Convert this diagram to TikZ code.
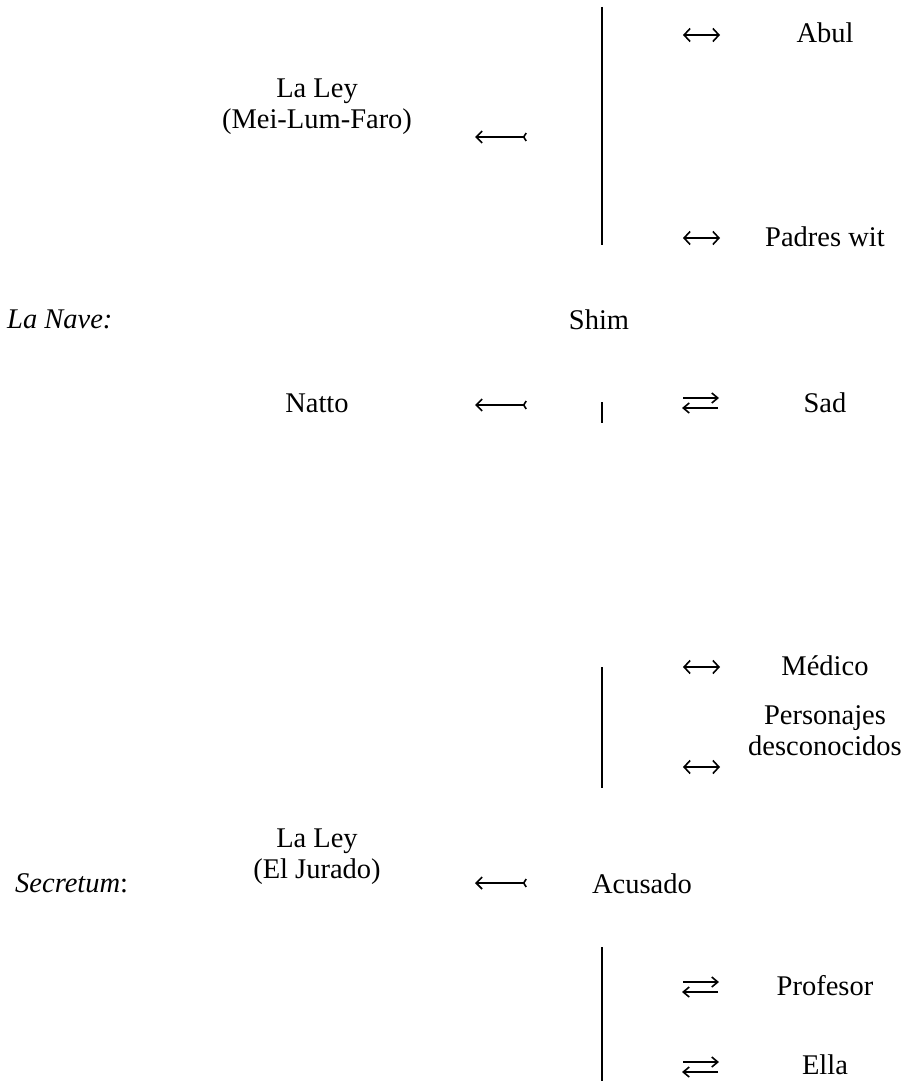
\documentclass[tikz,border=0pt]{standalone}
\usepackage{fontspec}
\setmainfont{Liberation Serif}
\usetikzlibrary{arrows.meta}

\begin{document}
\begin{tikzpicture}[x=1pt, y=-1pt,
name_style/.style={font=\fontsize{28.5}{31}\selectfont, align=center, anchor=base, inner sep=0pt},
title_style/.style={font=\fontsize{28.5}{31}\selectfont, anchor=base west, inner sep=0pt},
bar_style/.style={line width=2.4pt, black},
tail_arrow/.style={line width=1.6pt, {Straight Barb[length=6pt,width=12pt]}-{Straight Barb[reversed,length=2.5pt,width=8pt]}},
both_arrow/.style={line width=1.6pt, {Straight Barb[length=6pt,width=13pt]}-{Straight Barb[length=6pt,width=13pt]}},
right_arrow/.style={line width=1.6pt, -{Straight Barb[length=6pt,width=10pt]}},
]
\useasboundingbox (0,0) rectangle (908,1081);

% titles
\node[title_style] (nave) at (7,328) {\itshape La Nave:};
\node[title_style] (secretum) at (15,892) {\textit{Secretum}:};

% left column
\node[name_style] (ley_one) at (317,128) {La Ley\\(Mei-Lum-Faro)};
\node[name_style] (natto) at (317,412) {Natto};
\node[name_style] (ley_two) at (317,878) {La Ley\\(El Jurado)};

% middle column
\node[name_style] (shim) at (599,329) {Shim};
\node[name_style] (acusado) at (642,893) {Acusado};

% right column
\node[name_style] (abul) at (825,43) {Abul};
\node[name_style] (padres) at (825,246) {Padres wit};
\node[name_style] (sad) at (825,412) {Sad};
\node[name_style] (medico) at (825,675) {Médico};
\node[name_style] (personajes) at (825,755) {Personajes\\desconocidos};
\node[name_style] (profesor) at (825,995) {Profesor};
\node[name_style] (ella) at (825,1074) {Ella};

% bars
\foreach \a/\b in {7/245, 402/423, 667/788, 947/1081}{
	\draw[bar_style] (602,\a) -- (602,\b);
	}

% arrows
\foreach \y in {137,405,883}{
	\draw[tail_arrow] (475,\y) -- (527,\y);
	}
\foreach \y in {35,238,667,767}{
	\draw[both_arrow] (683,\y) -- (720,\y);
	}
\foreach \y in {403,987,1067}{
	\draw[right_arrow] (683,\y-5) -- (719,\y-5);
	\draw[right_arrow] (718,\y+5) -- (682,\y+5);
	}

\end{tikzpicture}
\end{document}
